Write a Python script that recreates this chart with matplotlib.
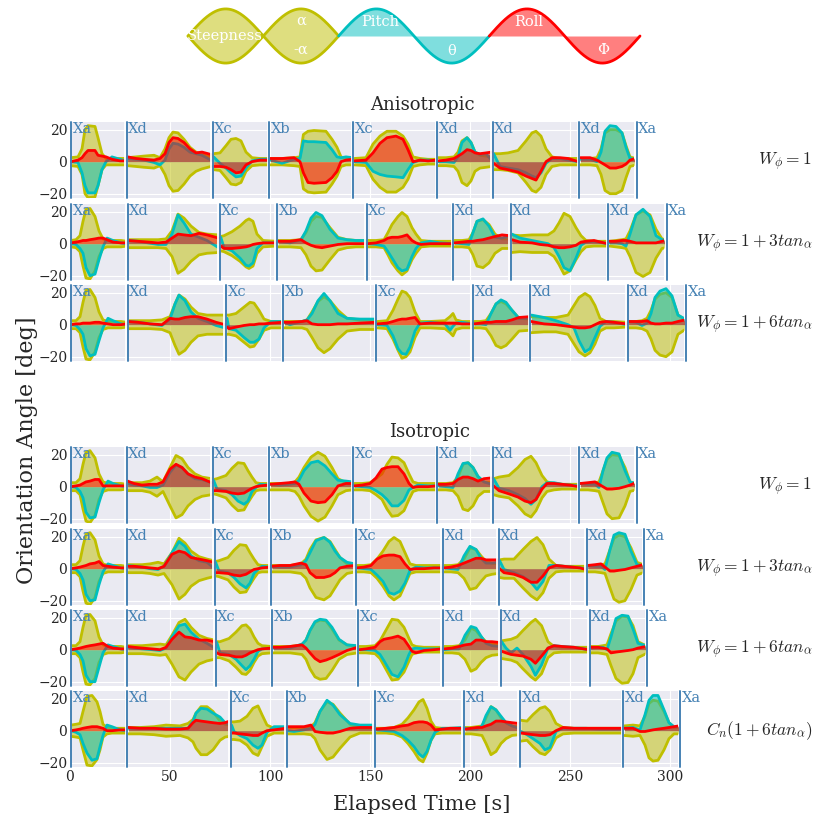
import matplotlib.pyplot as plt
import numpy as np

plt.style.use('seaborn-v0_8-darkgrid')
plt.rcParams['font.family'] = 'serif'
plt.rcParams['font.serif'] = ['DejaVu Serif']
plt.rcParams['mathtext.fontset'] = 'cm'

seg_labels = ["Xa", "Xd", "Xc", "Xb", "Xc", "Xd", "Xd", "Xd", "Xa"]
row_names = [r"$W_\phi = 1$", r"$W_\phi = 1 + 3tan_\alpha$", r"$W_\phi = 1 + 6tan_\alpha$",
             r"$W_\phi = 1$", r"$W_\phi = 1 + 3tan_\alpha$", r"$W_\phi = 1 + 6tan_\alpha$",
             r"$C_n(1 + 6tan_\alpha)$"]

# ---- Anisotropic, W = 1
r1_bounds = [0, 28.3, 71.3, 99.7, 141.7, 183.7, 211.3, 254.7, 283.3]
r1_t = [0.5, 4, 6, 7.5, 9, 12.5, 14, 16, 18, 21, 25, 27.5,
        28.8, 33, 37, 42, 45, 47.5, 49.5, 51.5, 54, 57, 60, 63, 66, 70.5,
        71.8, 75, 78, 80.5, 83, 85.5, 88, 91, 95, 99,
        100.2, 106, 112, 115, 116.7, 119, 122, 128, 131, 133.5, 135.5, 138, 141.2,
        142.2, 148, 151.5, 155, 158.5, 163, 166.5, 169, 171.5, 175, 179, 183.2,
        184.2, 188, 192, 194, 196, 198.5, 200.5, 202.5, 205, 208, 210.8,
        211.8, 215, 219, 224, 228, 231, 233, 235.5, 238, 241, 245, 249, 254.2,
        255.2, 260, 263.5, 265.5, 267.5, 270, 273, 276, 278, 280, 282.8]
r1_alpha = [2.5, 3, 8, 20, 22.5, 22, 15, 5, 2, 2, 2, 2,
            2.5, 3, 3.5, 4, 2.5, 8, 15, 18.5, 18, 14, 9, 6, 4.5, 3,
            5, 5.5, 10, 14, 14.5, 13, 6, 2.5, 2, 2,
            2, 2, 2.5, 3, 17, 19, 19.5, 19, 14, 9, 3, 2, 2,
            2, 2.5, 11, 16, 19, 19, 16, 11, 3, 2, 1.5, 1.5,
            2.5, 2.5, 3, 6, 13, 15, 12, 6, 4, 3.5, 3,
            5, 5, 5.5, 7, 13, 18, 19, 16, 8, 3, 2, 2, 2,
            2, 2, 2.5, 8, 18, 20, 20, 18, 10, 3, 2]
r1_pitch = [0, -0.5, -7, -15, -19.5, -19.5, -15, -5, 0, 3, 1.5, 0.5,
            2, 1.5, 1, -0.5, -2, 1, 8, 11.5, 11, 9, 6, 5, 4, 1,
            3, -1, -4, -7, -9.5, -9, -4, 0.5, 1.5, 1.5,
            1, -1, 1.5, 2, 13, 12.5, 12.5, 12, 7.5, 3, 2.5, 3, 2.5,
            0, -0.5, -6, -8, -9, -9.5, -10, -5, -0.5, 1, 1, 0.5,
            0, 0, -0.5, 3, 12, 15, 12, 6, 4.5, 5, 1,
            5, -3, -4, -5, -7, -9, -10, -7, -1, 2, 2, 1, 0,
            1.5, 1.5, 0, 6, 19, 22.5, 22, 18, 9, 2, 1.5]
r1_roll = [0, 1, 2.5, 5, 7, 7, 4, 3.5, 3, 1.5, 0.5, 0.5,
           3, 2, 1.5, 1, 2, 5, 12, 15, 14.5, 12, 8, 5.5, 6, 4.5,
           -3, -3, -3.5, -5, -7, -6.5, -2, 0, 1, 1,
           2, 2, 2.5, 0, -7, -13, -13.5, -13, -10, -6, 0, 1, 1.5,
           0.5, 1, 5.5, 11.5, 15, 16, 14, 7.5, 0, 1, 0.5, 1,
           0.5, 1, 2, 3.5, 5, 7.5, 7, 5.5, 5, 5.5, 6,
           -1, -4, -5, -6.5, -9, -10.5, -11.5, -6, 0, 2.5, 2.5, 2, 0,
           2.5, 2.5, 1, -0.5, -2, -4, -4, -3, -1.5, 1, 2]

# ---- Anisotropic, W = 1 + 3tan
r2_bounds = [0, 28.8, 74.9, 103.6, 148.3, 191.7, 220.4, 269.2, 298.3]
r2_t = [0.5, 3, 5, 6.5, 8, 10, 12.5, 14.5, 16.5, 18.5, 21.5, 25.5, 28.3,
        29.3, 34, 39, 44, 48, 51, 54, 57, 60.5, 64.5, 68.5, 74.3,
        75.4, 77, 81, 85, 88, 89.5, 91.5, 93.5, 96.5, 103,
        104.1, 110, 115.5, 118, 120.5, 123, 126, 130, 134, 138.5, 143, 147.8,
        148.8, 153, 157, 159, 161, 164, 166, 168.5, 171, 173, 175.5, 180, 185, 191.2,
        192.2, 196, 199.5, 201.5, 203.5, 206.5, 209.5, 212.5, 216, 219.9,
        220.9, 225, 231, 235, 239, 242, 244.5, 247, 250, 253, 255.5, 258, 262, 268.7,
        269.7, 273, 276, 278, 280, 283, 286.5, 290, 293, 296, 297.8]
r2_alpha = [2, 2.5, 5, 14, 21.5, 22, 17, 8, 3, 2, 2, 2, 1.5,
            2.5, 2.5, 2.5, 2.5, 3, 8, 18.5, 16, 11, 7, 6, 5.5,
            4.5, 5, 7.5, 11, 14.5, 15.5, 14, 6, 2, 1.5,
            2, 2, 2.5, 7, 14, 17, 16.5, 10, 4, 2.5, 2, 2,
            2, 2, 2.5, 7, 12, 17, 19.5, 17, 10, 6, 2, 1.5, 1.5, 1.5,
            2, 2, 2.5, 7, 14, 15, 12, 6, 3, 3,
            5.5, 5, 5.5, 5.5, 5.5, 8, 13, 19, 17, 10, 5, 2, 1.5, 1.5,
            1.5, 2, 2.5, 3, 8, 18, 20.5, 18, 9, 3, 2.5]
r2_pitch = [0, -0.5, -3, -6, -15, -20, -19, -10, -2, 3.5, 2, 0.5, 0,
            2, 1.5, 0.5, -0.5, -0.5, 6, 18, 13, 6, 4, 2, -2.5,
            4, -2.5, -4.5, -9, -13.5, -14, -12, -3, 0.5, 0.5,
            1.5, 0.5, 2.5, 8, 16, 19.5, 17.5, 9, 3.5, 2.5, 2, 2,
            0, -0.5, -1.5, -5, -9, -15, -17, -16, -8, -3, 0.5, 1.5, 0.5, 0,
            0.5, 0, -0.5, 7, 14, 15.5, 11, 4, 3.5, 5,
            6, 3.5, 2, 1, 0, -2.5, -8, -15, -17, -9, -1, 1, 1.5, 0,
            0.5, 0.5, 0, -1.5, 6, 18, 21.5, 17, 5, 2.5, 2]
r2_roll = [0.5, 1, 1.5, 2, 2, 2.5, 3, 3.5, 3.5, 2.5, 1, 0.5, 0.5,
           2, 1.5, 1, 0.5, 1, 3.5, 6, 5.5, 5, 6.5, 5.5, 3.5,
           -1.5, -3, -3, -2.5, -2, -1.5, -0.5, 0, 0.5, 0.5,
           1.5, 1.5, 2.5, 0.5, -1, -2, -2.5, -1.5, -0.5, 0, 0, 0,
           0, 0.5, 2, 3.5, 4, 4, 4.5, 5.5, 2, 0.5, -0.5, 0, 0, 0,
           0.5, 1, 1.5, 1.5, 2, 2.5, 3.5, 4.5, 5.5, 5,
           2.5, 1, 0.5, -0.5, -1, -2, -2.5, -2.5, -2, -1, 1, 1.5, 2, 0,
           1.5, 1.5, 2, 2, 1.5, 0.5, 0.5, 0.5, 0.5, 1.5, 2]

# ---- Anisotropic, W = 1 + 6tan
r3_bounds = [0, 28.8, 78, 106.7, 153.2, 201.6, 230.2, 278.8, 308.1]
r3_t = [0.5, 3, 5, 6.5, 8, 10, 12.5, 14.5, 16.5, 19, 21.5, 25.5, 28.3,
        29.3, 34, 40, 46, 50, 52.5, 54.5, 57.5, 60.5, 64, 68.5, 73, 77.5,
        78.5, 79.5, 83, 87, 90, 92, 94.5, 97, 100.5, 106.2,
        107.2, 110, 116, 118.5, 121, 124, 127, 130, 134, 138.5, 145, 152.7,
        153.7, 158.5, 161.5, 164, 166, 168, 170, 172.5, 175, 180, 187.5, 190, 191.5, 193, 196, 201.1,
        202.1, 205, 208, 210.5, 213, 215.5, 218, 221, 224.5, 229.7,
        230.7, 237, 243, 249, 252, 254.5, 257.5, 260, 262.5, 265, 268, 272, 278.3,
        279.3, 283, 286, 288.5, 290.5, 292.5, 295, 298, 301, 304, 307.6]
r3_alpha = [2.5, 2.5, 5, 14, 21.5, 22, 17, 8, 3, 2, 2, 2, 1.5,
            2.5, 2.5, 2.5, 3, 5, 13, 18.5, 16, 11, 7, 6, 6, 6,
            6, 6, 7, 11, 14, 13.5, 9, 3.5, 2, 2,
            2, 2, 2, 3, 8, 14.5, 17.5, 15, 9, 4, 3, 3,
            2, 2.5, 9, 16, 21, 20, 17, 8, 2, 2, 2.5, 5, 7, 3, 2, 2,
            2, 2, 2.5, 7, 13, 14.5, 13, 9, 4, 3.5,
            5, 4.5, 4.5, 6, 12, 17, 19.5, 17.5, 12, 4, 2, 2, 1.5,
            2, 2, 2.5, 4, 9, 16, 19, 20, 17, 6, 3]
r3_pitch = [0, -0.5, -3, -6, -15, -19.5, -18.5, -10, -2, 4, 2.5, 0.5, 0,
            2, 1.5, 0.5, -0.5, 3.5, 13, 18.5, 15, 8, 4, 2, -0.5, -2,
            4, -2.5, -3.5, -8, -11, -11, -9, -2, 2, 2,
            1.5, 0, 2, 3, 7, 15, 19.5, 15, 7, 4, 3.5, 3.5,
            0, -0.5, -7, -15, -18, -18.5, -14, -4, 1, 1.5, 0.5, -3.5, -1, 1, 1.5, 0.5,
            0.5, 0.5, 0, 7, 13, 15.5, 14, 9, 4, 4,
            6, 4.5, 2.5, 0, -2, -10, -17, -15, -8, -1, 2, 1.5, 0,
            2, 1.5, -0.5, 1, 7, 17, 21, 22.5, 18, 6, 3.5]
r3_roll = [0, 0.5, 0.5, 1, 1, 1, 1.5, 1.5, 1, 0.5, 0, 0, 0.5,
           2, 1.5, 0.5, 0, 4, 3.5, 3.5, 4.5, 5, 5, 3.5, 1.5, 0,
           -1.5, -2.5, -1.5, -0.5, 0, 0, 0.5, 0.5, 1, 1.5,
           1.5, 1.5, 2, 2.5, 0.5, 0, 0, 0, 0.5, 0.5, 1, 1.5,
           0.5, 1, 2, 3, 3.5, 3.5, 4, 4.5, 0.5, 1, 1, 1, 1, 1, 0.5, 0.5,
           0.5, 1, 1.5, 1.5, 2, 2, 2, 3, 4.5, 5,
           2, 0.5, 0, -1, -1.5, -2, -2, -1.5, 0, 1.5, 2, 1.5, 0.5,
           2, 2, 2, 2.5, 1, 0.5, 0.5, 1, 1, 2, 3]

# ---- Isotropic, W = 1
r4_bounds = [0, 28.3, 71.3, 99.7, 141.7, 183.7, 211.3, 254.7, 283.3]
r4_t = [0.5, 3, 5, 6.5, 8, 10, 12.5, 14.5, 16.5, 19, 21.5, 25.5, 28,
        28.8, 32, 36, 40, 43.5, 46.5, 50, 53, 56, 59, 62.5, 66, 70.8,
        71.8, 73.5, 78, 81, 84, 87, 89, 91, 93, 95, 99.2,
        100.2, 105, 109.5, 112.5, 114.5, 117, 120.5, 124, 127.5, 131, 134, 138, 141.2,
        142.2, 146, 150, 153, 156, 158.5, 161, 164, 167, 169.5, 171.5, 174, 179, 183.2,
        184.2, 188, 191.5, 194, 196.5, 199, 201.5, 204, 207, 210.8,
        211.8, 214.5, 219.5, 224, 227.5, 230.5, 233, 236, 238.5, 242, 246, 250, 254.2,
        255.2, 259, 262.5, 264.5, 266.5, 268.5, 271, 274.5, 277.5, 280, 282.8]
r4_alpha = [2.5, 2.5, 5, 14, 21.5, 22.5, 18, 8, 3, 2, 2, 2, 1.5,
            2.5, 2.5, 2.5, 3.5, 6, 3, 12, 19.5, 17.5, 12, 8, 6, 5,
            4.5, 5, 7, 11.5, 15, 14.5, 10, 6, 2.5, 2, 2,
            2, 2, 2, 3, 6, 12, 18.5, 21.5, 19, 12, 5, 2.5, 2,
            2, 2, 2.5, 5, 8, 14, 18.5, 18, 15, 8, 3, 2, 2, 2,
            2, 2, 2.5, 6, 14, 15, 12, 6, 3, 3,
            5, 6, 7, 12, 17, 19, 15, 7, 3, 2, 1.5, 1.5, 1.5,
            2, 2, 2.5, 3, 10, 17, 20, 19.5, 12, 3, 2]
r4_pitch = [0, -0.5, -3, -7, -16, -19.5, -19, -10, -2, 3.5, 2, 0.5, 0,
            2, 1, 0.5, -0.5, -0.5, 1, 9, 13.5, 12, 8, 5, 4.5, 2.5,
            4, -1.5, -2.5, -5, -9, -11, -9, -3, -0.5, 1.5, 1,
            1.5, 1, 1.5, 2, 4, 10, 15, 16, 13, 8, 4, 3.5, 3,
            0.5, 0, -0.5, -2.5, -5, -8, -12, -12, -8.5, -2, -0.5, 1, 0.5, 0.5,
            0.5, 0, -0.5, 8, 14.5, 15, 12, 6.5, 3, 1.5,
            5, -1, -2.5, -5, -7.5, -11, -8, 0, 2.5, 2.5, 1.5, 1, 0.5,
            2, 1.5, 1.5, -0.5, 10, 18, 21.5, 20.5, 10, 3, 2]
r4_roll = [0, 0.5, 1, 2, 3, 3.5, 4.5, 4.5, 0.5, 0.5, 0.5, 0.5, 0.5,
           3.5, 2, 1, 1.5, 1.5, 3, 11, 14, 12, 8, 6, 5, 2.5,
           -2.5, -2.5, -3, -4, -4.5, -4, -2.5, -1, 0, 0.5, 1,
           1.5, 2, 2.5, 3, 1.5, -4, -9, -10, -9.5, -5, 0.5, 2, 2,
           0.5, 1, 2, 5.5, 11, 12, 12.5, 12.5, 8, 2, -0.5, 0, 0, 0.5,
           1.5, 1.5, 2, 4.5, 6, 6, 5, 3.5, 5, 5.5,
           0.5, -2.5, -4.5, -6.5, -9, -10, -8, -1.5, 2, 2, 1.5, 1, 0,
           2, 2.5, 3, 1.5, 0, -1.5, -1.5, -1, 0, 1, 2.5]

# ---- Isotropic, W = 1 + 3tan
r5_bounds = [0, 28.4, 72.3, 100.5, 143, 186.6, 214.3, 258.4, 287]
r5_t = [0.5, 3, 5, 6.5, 8, 10, 12.5, 14.5, 16.5, 19, 21.5, 25.5, 28,
        28.9, 32, 36, 40, 44, 47, 51, 54.5, 57.5, 60.5, 64.5, 68.5, 71.8,
        72.8, 74.5, 79, 82, 85, 88, 90, 92, 94, 96, 100,
        101, 105, 110, 115.5, 118, 120, 123, 127, 130, 132.5, 135, 138.5, 142.5,
        143.5, 147, 150.5, 153.5, 156.5, 159.5, 162, 165, 167.5, 170, 173, 177, 182, 186.1,
        187.1, 190.5, 194, 197, 200, 203, 205.5, 208, 211, 213.8,
        214.8, 217, 222, 226.5, 230.5, 233.5, 236.5, 239.5, 243, 247, 251, 255, 257.9,
        258.9, 262.5, 265.5, 267.5, 270, 272, 274.5, 277.5, 280.5, 283.5, 286.5]
r5_alpha = [2.5, 2.5, 5, 14, 21.5, 22.5, 18, 8, 3, 2, 2, 2, 1.5,
            2.5, 2.5, 2.5, 3, 4, 3, 10, 19, 16, 11, 7.5, 6, 5,
            4.5, 5, 7, 11.5, 15, 14.5, 10, 6, 2.5, 2, 2,
            2, 2, 2, 3, 6, 12, 18, 19.5, 17, 12, 7, 3, 2,
            2, 2, 2.5, 6, 11, 17, 19.5, 17, 10, 3, 2, 2, 2, 2,
            2, 2, 2.5, 6, 13, 12, 8, 4.5, 3.5, 3,
            5.5, 6, 6, 12, 17, 19.5, 15, 6, 2, 1.5, 1.5, 1.5, 1.5,
            2, 2, 2.5, 3, 12, 19, 21, 20, 13, 4, 2.5]
r5_pitch = [0, -0.5, -3, -7, -16, -20, -19.5, -10, -2, 3, 2, 0.5, 0,
            2, 1.5, 1, 0, -0.5, 1.5, 10, 17, 14, 8, 5, 4, 0.5,
            4, -1.5, -2.5, -5.5, -9.5, -12, -9, -3, -0.5, 1.5, 1,
            1.5, 1, 1, 2.5, 5, 10, 17.5, 19.5, 16.5, 11, 7, 4, 3,
            0.5, 0, -0.5, -4, -8, -15, -16, -14, -9, -1, 1, 0.5, 0.5, 0.5,
            0.5, 0, -0.5, 8, 14, 12, 6.5, 3.5, 3.5, 4,
            5, -0.5, -2.5, -5, -8.5, -13, -8, 2, 2, 1.5, 1, 0.5, 0,
            2, 1.5, 1.5, -0.5, 12, 21, 22.5, 21.5, 11, 2.5, 2]
r5_roll = [0, 0.5, 1, 1.5, 2, 3, 3.5, 4.5, 2, 1.5, 1, 0.5, 0.5,
           1.5, 1.5, 1, 0.5, 0, 1.5, 9, 11, 10, 7, 6, 5, 4,
           -2.5, -2.5, -3, -4, -4.5, -3.5, -2, -0.5, 0, 0.5, 1,
           1.5, 2, 2, 3.5, 2.5, -2.5, -5.5, -5.5, -4.5, -2.5, 0.5, 1.5, 2,
           0.5, 1, 2, 6, 8, 8.5, 8.5, 7.5, 3, -0.5, 0, 0, 0.5, 0.5,
           0.5, 1, 2, 3.5, 5, 6.5, 6.5, 5.5, 5.5, 5.5,
           0, -2.5, -3.5, -5.5, -8.5, -8.5, -4.5, 0.5, 2, 1.5, 1, 0.5, -0.5,
           2, 2.5, 3, 1, -1.5, -1.5, -1, -0.5, 0.5, 1.5, 2.5]

# ---- Isotropic, W = 1 + 6tan
r6_bounds = [0, 28.4, 72.9, 101.2, 144.2, 186.6, 215.3, 259.8, 288.5]
r6_t = [0.5, 3, 5, 6.5, 8, 10, 12.5, 14.5, 16.5, 19, 21.5, 25.5, 28,
        28.9, 32, 36, 41, 45, 48, 51, 54.5, 57.5, 60.5, 64.5, 68.5, 72.4,
        73.4, 75, 79.5, 83, 86, 88, 90, 92, 94, 96, 100.7,
        101.7, 105, 110, 116, 118, 120, 122.5, 125, 128, 131, 134.5, 138.5, 143.7,
        144.7, 148, 152.5, 155, 157, 161, 164, 167, 169.5, 171, 173, 177, 182, 186.1,
        187.1, 191, 194.5, 197.5, 200.5, 203, 205.5, 208, 211, 214.8,
        215.8, 218, 220.5, 223.5, 226.5, 230.5, 232.7, 235.8, 239, 242, 246, 252, 259.3,
        260.3, 264, 266.5, 268.5, 270.5, 273, 276, 279, 281.5, 284, 288]
r6_alpha = [2.5, 2.5, 5, 14, 21.5, 22, 18, 8, 3, 2, 2, 2, 1.5,
            2.5, 2.5, 2.5, 3, 3.5, 3, 9, 17, 19, 14, 9, 7, 6,
            5, 5, 7, 11, 15, 15.5, 13, 8, 4, 2.5, 2,
            2, 2, 2, 3, 6, 12, 17, 18.5, 18, 13, 6, 3, 2,
            2, 2, 2.5, 5.5, 10, 19, 18.5, 14, 7, 3, 2, 1.5, 1.5, 1.5,
            2, 2, 2.5, 6, 13.5, 12, 8, 5, 3.5, 3,
            5.5, 6, 6.5, 8, 12, 17, 19, 15, 5, 2, 1.5, 1.5, 1.5,
            2, 2, 2.5, 3, 10, 18, 21, 20.5, 15, 5, 2.5]
r6_pitch = [0, -0.5, -3, -7, -16, -20, -20, -11, -2, 3, 2, 0.5, 0,
            1.5, 1, 0.5, 0, -0.5, 1, 8, 15, 16, 11, 6.5, 4, 1,
            4.5, -2, -3, -6, -10, -12.5, -10, -6, -1, 0.5, 1,
            1, 1, 1, 3.5, 6, 12, 17.5, 19, 18.5, 14, 6.5, 3, 2.5,
            0, 0, -0.5, -3, -7, -15.5, -17, -11, -3, 0.5, 1, 0.5, 0.5, 0.5,
            0, 0.5, 0.5, 9, 14.5, 13.5, 8.5, 4, 2.5, 2,
            5, 1, -2, 1, -3, -10.5, -16, -9.5, 1, 2.5, 2, 1.5, 0,
            1, 1.5, 1.5, 0, 8, 19.5, 21.5, 21, 13, 4, 2.5]
r6_roll = [0, 0.5, 1, 1.5, 2, 2.5, 3, 3.5, 4, 2, 1, 0.5, 0.5,
           2, 1.5, 1, 0.5, 0, 1.5, 6.5, 11, 8, 7.5, 6, 6, 5,
           -2, -3, -3.5, -4.5, -4.5, -3.5, -2, -1, 0, 0.5, 1,
           1.5, 1.5, 2, 3, 1, -2, -5.5, -7.5, -6.5, -5, -3, -0.5, 1.5,
           0, 0.5, 1.5, 5, 6.5, 7.5, 8.5, 6.5, 2, -1, -2, -0.5, 0, 0.5,
           0.5, 1, 2, 3, 3.5, 6, 6, 5, 5, 4.5,
           -1, -2, -3, -3.5, -4, -6, -8.5, -4, 1, 2.5, 2, 1.5, 0,
           1.5, 1.5, 1, 0.5, -2, -1.5, -1, -0.5, 0, 1, 2]

# ---- Isotropic, Cn(1 + 6tan)
r7_bounds = [0, 28.7, 80.3, 108.3, 152.5, 197, 225, 276.7, 305]
r7_t = [0.5, 3, 5, 6.5, 8.5, 11, 13.5, 15, 16.5, 18.5, 21, 25, 28.2,
        29.2, 35, 42, 48, 55, 59, 61.5, 63, 65.5, 68.5, 71.5, 75, 77.5, 79.8,
        80.8, 82, 85, 88.5, 91.5, 94, 96, 98.5, 102, 107.8,
        108.8, 112, 117, 120.5, 122.5, 125, 128.5, 131.5, 135, 140, 145, 152,
        153, 158, 162, 166, 169, 172, 174.5, 176.5, 178.5, 180.5, 182.5, 186, 190, 196.5,
        197.5, 200.5, 203.5, 206, 208, 210.5, 213, 215.5, 218, 221, 224.5,
        225.5, 228.5, 231.5, 235, 237.5, 240, 243, 246.5, 252, 258, 265, 271, 276.2,
        277.2, 281.5, 285, 287.5, 289.5, 291.5, 294, 297, 299.5, 302, 304.5]
r7_alpha = [3.5, 4, 4.5, 12, 21.5, 22, 18, 12, 4, 2, 1.5, 1.5, 1.5,
            2, 2, 2.5, 3.5, 3, 4.5, 7, 11, 15, 15, 12, 6, 4, 3.5,
            5.5, 5.5, 6, 9, 14, 15.5, 10, 3.5, 1.5, 1.5,
            2, 2, 2, 2.5, 5, 12, 18, 16.5, 11, 4, 1.5, 1.5,
            1.5, 1.5, 2, 4, 8, 13, 18, 19.5, 14, 6, 2, 1.5, 1.5, 1.5,
            2, 2, 2.5, 3, 8, 15, 13, 8, 5, 3, 2.5,
            6.5, 6, 10, 14, 15, 12, 4.5, 2, 1.5, 1.5, 1.5, 1.5, 1.5,
            3, 3.5, 3, 9, 17, 19, 18.5, 12, 5, 2, 2]
r7_pitch = [0, -1, -2.5, -8, -14, -18.5, -17.5, -10, -3, 3.5, 2.5, 0.5, 0,
            1.5, 1.5, 1.5, 1.5, 1.5, 1.5, 6, 11, 14, 13.5, 11, 8.5, 5, 4,
            3.5, -0.5, -3, -5, -9, -11, -9, -1, 2.5, 2.5,
            0, -0.5, 0.5, 1.5, 4, 12, 19, 16, 10, 4.5, 3.5, 3.5,
            0.5, 0, -0.5, -3, -6, -10, -14.5, -16.5, -13, -6, -1, 1.5, 1.5, 2,
            1.5, 1, 1, 3, 9.5, 15, 13, 9, 5, 3, 1.5,
            -0.5, -2.5, -5, -8, -12, -10.5, -0.5, 1.5, 1.5, 1.5, 1, 1, 1,
            1.5, 2, 0.5, 10, 19, 22, 22, 13, 5, 2.5, 2.5]
r7_roll = [0, 0.5, 1, 1.5, 2, 2.5, 2.5, 2, 1.5, 0, 0, 0.5, 0.5,
           2, 1.5, 1.5, 1, 1, 1.5, 5, 6.5, 6, 5.5, 5, 4.5, 5, 6,
           -1.5, -1.5, -2, -2.5, -3, -3, -1.5, 0, 0.5, 1.5,
           2.5, 2.5, 2.5, 3.5, -0.5, -1, -1.5, -1.5, -0.5, 1.5, 2, 2,
           1, 1.5, 2, 3, 3.5, 5, 5.5, 5.5, 5, 3.5, 0.5, 1, 1.5, 1.5,
           1, 1.5, 2, 2, 3, 4, 6, 6, 5.5, 5, 4.5,
           -1.5, -2, -2.5, -3, -3, -2.5, 0, 2, 1.5, 1.5, 1.5, 1.5, 1.5,
           1.5, 1.5, -0.5, -0.5, 0, 0.5, 1, 1.5, 2, 2.5, 3]

rows = [(r1_bounds, r1_t, r1_alpha, r1_pitch, r1_roll),
        (r2_bounds, r2_t, r2_alpha, r2_pitch, r2_roll),
        (r3_bounds, r3_t, r3_alpha, r3_pitch, r3_roll),
        (r4_bounds, r4_t, r4_alpha, r4_pitch, r4_roll),
        (r5_bounds, r5_t, r5_alpha, r5_pitch, r5_roll),
        (r6_bounds, r6_t, r6_alpha, r6_pitch, r6_roll),
        (r7_bounds, r7_t, r7_alpha, r7_pitch, r7_roll)]

W = 830.0
row_top = [122, 204, 285, 447, 529, 610, 691]
row_h = 76
px_per_s = 2.0
ylo, yhi = -22.7, 24.8
blue = "steelblue"

fig = plt.figure(figsize=(8.3, 8.3), dpi=100)

for k, (bounds, t, al, pi, ro) in enumerate(rows):
    t = np.array(t, dtype=float)
    al = np.array(al, dtype=float)
    pi = np.array(pi, dtype=float)
    ro = np.array(ro, dtype=float)
    xmax = bounds[-1] - 1.2
    ax = fig.add_axes([70 / W, 1 - (row_top[k] + row_h) / W, xmax * px_per_s / W, row_h / W])
    for i in range(len(bounds) - 1):
        m = (t >= bounds[i]) & (t < bounds[i + 1])
        ax.fill_between(t[m], -al[m], al[m], color="y", alpha=0.5, lw=0, zorder=2)
        ax.plot(t[m], al[m], color="y", lw=2, zorder=2)
        ax.plot(t[m], -al[m], color="y", lw=2, zorder=2)
        ax.fill_between(t[m], 0, pi[m], color="c", alpha=0.5, lw=0, zorder=3)
        ax.plot(t[m], pi[m], color="c", lw=2, zorder=3)
        ax.fill_between(t[m], 0, ro[m], color="r", alpha=0.5, lw=0, zorder=4)
        ax.plot(t[m], ro[m], color="r", lw=2, zorder=4)
    for i, b in enumerate(bounds):
        if 0 < i < len(bounds) - 1:
            ax.axvline(b - 0.9, color="white", lw=1.3, zorder=5)
        xb = 0.5 if i == 0 else b
        ax.axvline(xb, color=blue, lw=1.4, zorder=6, clip_on=False)
        ax.text(xb + 0.8, yhi + 0.3, seg_labels[i], color=blue, fontsize=10.5,
                va="top", ha="left", zorder=7)
    ax.set_yticks([-20, 0, 20])
    ax.set_xticks([v for v in range(0, 301, 50) if v <= xmax])
    ax.set_xlim(0, xmax)
    ax.set_ylim(ylo, yhi)
    ax.tick_params(labelsize=10, labelbottom=(k == 6), pad=2)
    fig.text(812 / W, 1 - (row_top[k] + 40) / W, row_names[k], ha="right", va="center", fontsize=12.5)

fig.text(422 / W, 1 - 105 / W, "Anisotropic", ha="center", va="center", fontsize=13)
fig.text(430 / W, 1 - 432 / W, "Isotropic", ha="center", va="center", fontsize=13)
fig.text(422 / W, 1 - 804 / W, "Elapsed Time [s]", ha="center", va="center", fontsize=15)
fig.text(27 / W, 1 - 450 / W, "Orientation Angle [deg]", ha="center", va="center",
         rotation=90, fontsize=16)

# schematic key at the top
leg = fig.add_axes([186 / W, 1 - 68.5 / W, 456 / W, 65 / W])
leg.axis("off")
s1 = np.linspace(0, 2 * np.pi, 200)
s2 = np.linspace(2 * np.pi, 4 * np.pi, 200)
s3 = np.linspace(4 * np.pi, 6 * np.pi, 200)
leg.fill_between(s1, -np.abs(np.sin(s1)), np.abs(np.sin(s1)), color="y", alpha=0.5, lw=0)
leg.plot(s1, np.abs(np.sin(s1)), color="y", lw=2)
leg.plot(s1, -np.abs(np.sin(s1)), color="y", lw=2)
leg.fill_between(s2, 0, np.sin(s2), color="c", alpha=0.5, lw=0)
leg.plot(s2, np.sin(s2), color="c", lw=2)
leg.fill_between(s3, 0, np.sin(s3), color="r", alpha=0.5, lw=0)
leg.plot(s3, np.sin(s3), color="r", lw=2)
leg.set_xlim(-2 / 452 * 6 * np.pi, 454 / 452 * 6 * np.pi)
leg.set_ylim(-1.2, 1.2)
for x, y, s in [(1.55, 0, "Steepness"), (4.71, 0.55, r"α"), (4.71, -0.5, r"-α"),
                (8.0, 0.5, "Pitch"), (11.0, -0.55, "θ"), (14.2, 0.5, "Roll"),
                (17.3, -0.5, "Φ")]:
    leg.text(x, y, s, color="white", ha="center", va="center", fontsize=10.5)

fig.savefig("out.png", dpi=100)
